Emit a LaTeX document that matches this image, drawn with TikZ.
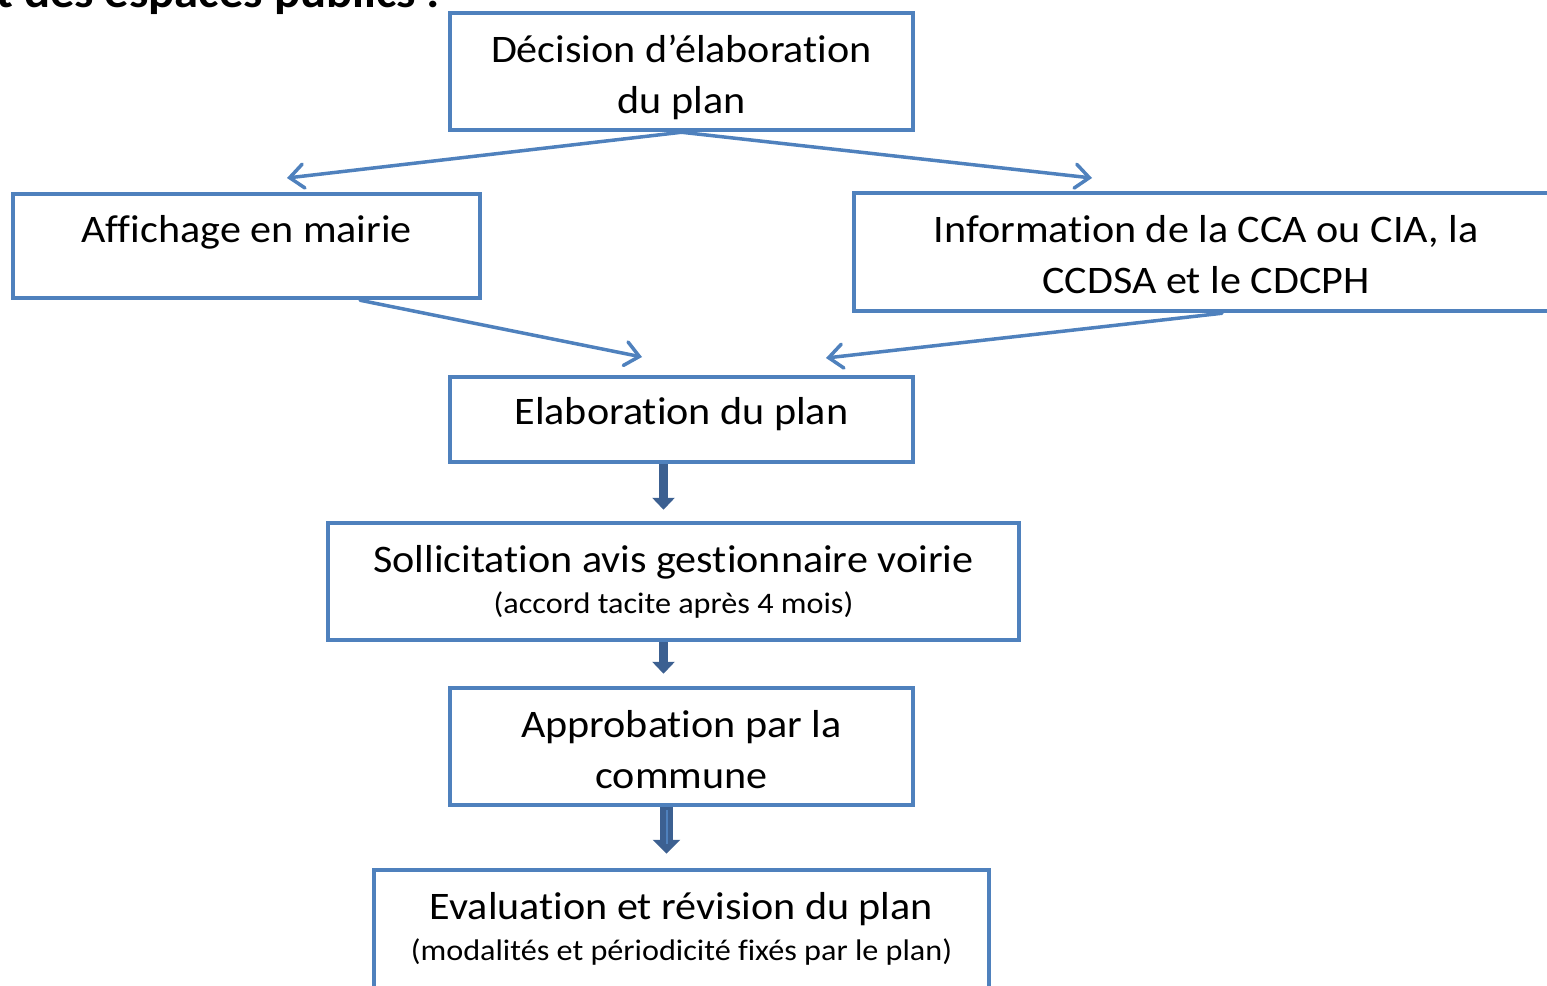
\documentclass[tikz,border=0pt]{standalone}
\usepackage{fontspec}
\setmainfont{Carlito}[FakeStretch=1.08,Ligatures=NoCommon]
\usetikzlibrary{arrows.meta}
\definecolor{bl}{RGB}{79,129,189}
\definecolor{dk}{RGB}{60,96,145}
\begin{document}
\begin{tikzpicture}[x=1pt,y=-1pt,
  box/.style={draw=bl,line width=4.5pt,inner sep=0pt,rectangle},
  big/.style={font=\fontsize{39}{51}\selectfont,inner sep=0pt,anchor=base},
  small/.style={font=\fontsize{29.8}{35}\selectfont,inner sep=0pt,anchor=base},
  thinarrow/.style={draw=bl,line width=3.5pt,line cap=round,-{Straight Barb[length=14pt,width=24pt,line cap=round]}},
  blk/.style={draw=dk,line width=9pt,-{Triangle[length=12pt,width=22pt]}}]
\useasboundingbox (0,0) rectangle (1547,985);
\clip (0,0) rectangle (1547,985);

\node[font=\bfseries\fontsize{45}{50}\selectfont,anchor=base west,inner sep=0pt] (head) at (-4,8) {t des espaces publics :};

% boxes
\node[box,minimum width=463pt,minimum height=117pt] (dec) at (681.5,71.5) {};
\node[box,minimum width=467pt,minimum height=104pt] (aff) at (246.5,246) {};
\node[box,minimum width=704pt,minimum height=118pt] (info) at (1206,252) {};
\node[box,minimum width=463pt,minimum height=85pt] (elab) at (681.5,419.5) {};
\node[box,minimum width=691pt,minimum height=117pt] (soll) at (673.5,581.5) {};
\node[box,minimum width=463pt,minimum height=117pt] (appr) at (681.5,746.5) {};
\node[box,minimum width=615pt,minimum height=120pt] (eval) at (681.5,930) {};

% texts
\node[big] (dec1) at (681.5,62) {Décision d’élaboration};
\node[big] (dec2) at (681.5,113) {du plan};
\node[big] (aff1) at (246.5,242) {Affichage en mairie};
\node[big] (inf1) at (1206,242) {Information de la CCA ou CIA, la};
\node[big] (inf2) at (1206,293) {CCDSA et le CDCPH};
\node[big] (ela1) at (681.5,424) {Elaboration du plan};
\node[big] (sol1) at (673.5,572) {Sollicitation avis gestionnaire voirie};
\node[small] (sol2) at (673.5,613) {(accord tacite après 4 mois)};
\node[big] (app1) at (681.5,737) {Approbation par la};
\node[big] (app2) at (681.5,788) {commune};
\node[big] (eva1) at (681.5,919) {Evaluation et révision du plan};
\node[small] (eva2) at (681.5,960) {(modalités et périodicité fixés par le plan)};

% thin arrows
\coordinate (t1) at (287,178);
\coordinate (t2) at (1092,178);
\coordinate (t3) at (642,357);
\coordinate (t4) at (826,358);
\draw[thinarrow] (dec.south) -- (t1);
\draw[thinarrow] (dec.south) -- (t2);
\draw[thinarrow] ([xshift=113.5pt]aff.south) -- (t3);
\draw[thinarrow] ([xshift=16pt]info.south) -- (t4);

% block arrows
\draw[blk,shorten >=11pt] ([xshift=-18pt]elab.south) -- ([xshift=-18pt]elab.south |- soll.north);
\draw[blk,shorten >=12pt] ([xshift=-10pt]soll.south) -- ([xshift=-10pt]soll.south |- appr.north);
\draw[draw=dk,line width=13pt,-{Triangle[length=14pt,width=27pt]},shorten >=14pt] ([xshift=-15pt]appr.south) -- ([xshift=-15pt]appr.south |- eval.north);
\draw[draw=bl,line width=2pt] ([xshift=-15pt,yshift=-3pt]appr.south) -- ++(0,34);
\end{tikzpicture}
\end{document}
